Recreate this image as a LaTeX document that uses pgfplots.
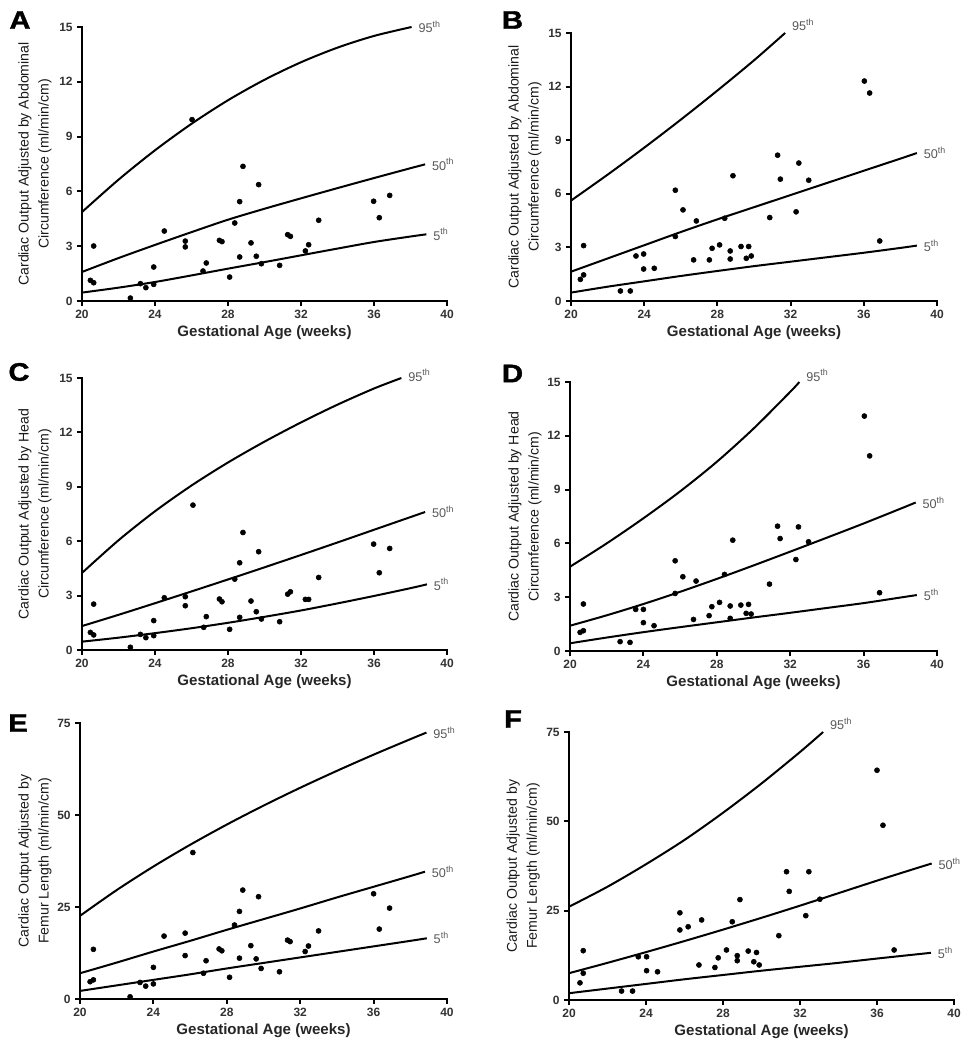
\documentclass[border=0pt]{standalone}
\usepackage{fontspec}
\setmainfont{Liberation Sans}
\newfontfamily\heavyfont[BoldFeatures={FakeBold=1.5}]{Liberation Sans}
\usepackage{pgfplots}
\usepackage{pgfplotstable}
\pgfplotsset{compat=1.18}

\pgfplotstableread{
x y
20.64 3.01
20.46 1.13
20.64 1.00
22.65 0.16
23.20 0.95
23.50 0.73
23.93 1.86
23.93 0.91
24.51 3.83
25.66 3.28
25.66 2.96
26.03 9.93
26.63 1.64
26.81 2.08
27.53 3.32
27.67 3.25
28.09 1.31
28.37 4.27
28.64 5.44
28.64 2.41
28.82 7.37
29.26 3.18
29.55 2.45
29.68 6.37
29.83 2.04
30.83 1.95
31.27 3.63
31.42 3.54
32.24 2.74
32.42 3.08
32.97 4.42
35.98 5.46
36.29 4.56
36.86 5.78
}\ptsA
\pgfplotstableread{
x y
20.69 3.10
20.51 1.21
20.69 1.46
22.70 0.56
23.24 0.56
23.55 2.52
23.97 2.63
23.97 1.79
24.55 1.83
25.70 6.20
25.70 3.61
26.12 5.10
26.70 2.30
26.85 4.48
27.56 2.30
27.71 2.95
28.12 3.14
28.40 4.63
28.70 2.80
28.70 2.35
28.85 7.01
29.29 3.05
29.58 2.39
29.71 3.05
29.85 2.52
30.86 4.67
31.29 8.16
31.44 6.82
32.30 4.99
32.45 7.72
32.99 6.76
36.03 12.31
36.32 11.64
36.87 3.36
}\ptsB
\pgfplotstableread{
x y
20.64 2.53
20.46 0.97
20.64 0.83
22.65 0.15
23.20 0.86
23.50 0.68
23.93 1.62
23.93 0.79
24.51 2.88
25.66 2.94
25.66 2.44
26.08 7.99
26.67 1.25
26.81 1.84
27.53 2.81
27.67 2.66
28.09 1.14
28.37 3.91
28.64 4.81
28.64 1.80
28.82 6.48
29.26 2.70
29.55 2.11
29.68 5.42
29.83 1.71
30.83 1.56
31.27 3.08
31.42 3.21
32.24 2.79
32.42 2.79
32.97 4.00
35.98 5.84
36.29 4.26
36.86 5.60
}\ptsC
\pgfplotstableread{
x y
20.73 2.62
20.55 1.04
20.73 1.13
22.73 0.52
23.27 0.48
23.58 2.32
24.00 2.32
24.00 1.58
24.58 1.41
25.73 5.03
25.73 3.21
26.15 4.14
26.73 1.76
26.87 3.90
27.58 1.97
27.73 2.47
28.15 2.71
28.42 4.27
28.73 2.51
28.73 1.82
28.87 6.18
29.31 2.56
29.60 2.10
29.73 2.60
29.87 2.06
30.87 3.73
31.31 6.96
31.45 6.27
32.31 5.10
32.45 6.92
33.00 6.09
36.04 13.10
36.33 10.88
36.87 3.25
}\ptsD
\pgfplotstableread{
x y
20.73 13.5
20.55 4.7
20.73 5.2
22.73 0.6
23.27 4.5
23.58 3.5
24.00 8.6
24.00 4.1
24.58 17.1
25.73 17.9
25.73 11.8
26.15 39.8
26.73 7.0
26.87 10.4
27.58 13.6
27.73 13.1
28.15 5.9
28.42 20.1
28.69 23.8
28.69 11.1
28.87 29.6
29.31 14.5
29.60 10.9
29.73 27.8
29.87 8.3
30.87 7.4
31.31 16.0
31.45 15.6
32.27 12.9
32.45 14.4
33.00 18.5
36.00 28.6
36.31 19.0
36.87 24.7
}\ptsE
\pgfplotstableread{
x y
20.74 13.8
20.57 4.8
20.74 7.5
22.73 2.5
23.30 2.5
23.60 12.1
24.03 12.1
24.03 8.2
24.60 7.9
25.76 24.4
25.76 19.6
26.19 20.5
26.75 9.8
26.89 22.4
27.58 9.1
27.75 11.8
28.18 14.0
28.48 21.9
28.74 12.4
28.74 11.0
28.88 28.1
29.31 13.7
29.60 10.7
29.74 13.3
29.88 9.8
30.90 18.0
31.30 35.9
31.44 30.4
32.30 23.6
32.46 35.9
33.03 28.2
36.00 64.3
36.31 48.9
36.89 14.0
}\ptsF

\pgfplotsset{
  panel/.style={
    scale only axis,
    axis lines=left,
    axis line style={-, line width=2.1pt, line cap=rect},
    xmin=20, xmax=40, ymin=0,
    xtick={20,24,...,40},
    tick align=outside,
    major tick length=3.5pt,
    tick style={line width=1.5pt, black},
    tick label style={font=\fontsize{9}{10}\selectfont\bfseries, text=black!80},
    /pgf/number format/assume math mode=true,
    xlabel={Gestational Age (weeks)},
    xlabel style={font=\fontsize{11.3}{12}\selectfont\bfseries, text=black!85, at={(axis description cs:0.5,0)}, anchor=center, yshift=-23.5pt},
    ylabel style={font=\fontsize{10.6}{15}\selectfont, text=black!90, align=center, anchor=center},
    clip=false,
  },
  curve/.style={black, line width=1.5pt, smooth, no markers},
  dots/.style={only marks, mark=*, mark size=1.9pt, black},
}
\tikzset{
  pct/.style={anchor=west, font=\fontsize{9.5}{10}\selectfont, text=black!65, inner sep=1pt, xshift=4pt},
  letter/.style={font=\fontsize{19}{19}\heavyfont\bfseries, xscale=1.15},
}

\begin{document}
\begin{tikzpicture}
\path[use as bounding box] (0,0) rectangle (732.75pt,787.5pt);

% Panel letters
\node[letter] at (15pt,772.5pt) {A};
\node[letter] at (384.4pt,772.5pt) {B};
\node[letter] at (14.25pt,508.5pt) {C};
\node[letter] at (384.4pt,507.4pt) {D};
\node[letter] at (13.5pt,245.25pt) {E};
\node[letter] at (384.75pt,248.25pt) {F};

% ---------- A ----------
\begin{axis}[panel, at={(61.5pt,561.75pt)}, anchor=south west,
  width=273.75pt, height=205.5pt, ymax=15, ytick={0,3,...,15},
  ylabel={Cardiac Output Adjusted by Abdominal\\Circumference (ml/min/cm)},
  ylabel style={at={(axis description cs:-0.129,0.5)}}]
\addplot[curve] coordinates {(20,4.87)(22,6.64)(24,8.25)(26,9.70)(28,10.99)(30,12.11)(32,13.07)(34,13.87)(36,14.51)(38.06,15)};
\addplot[curve] coordinates {(20,1.59)(22,2.35)(24,3.07)(26,3.77)(28,4.45)(30,5.05)(32,5.62)(34,6.18)(36,6.73)(38,7.27)(38.8,7.48)};
\addplot[curve] coordinates {(20,0.46)(22,0.73)(24,1.04)(26,1.4)(28,1.77)(30,2.13)(32,2.5)(34,2.87)(36,3.23)(38,3.53)(38.87,3.65)};
\addplot[dots] table[x=x,y=y] {\ptsA};
\node[pct] at (axis cs:38.06,15) {95\textsuperscript{th}};
\node[pct] at (axis cs:38.8,7.48) {50\textsuperscript{th}};
\node[pct] at (axis cs:38.87,3.65) {5\textsuperscript{th}};
\end{axis}

% ---------- B ----------
\begin{axis}[panel, at={(428.25pt,561.75pt)}, anchor=south west,
  width=274.5pt, height=201pt, ymax=15, ytick={0,3,...,15},
  ylabel={Cardiac Output Adjusted by Abdominal\\Circumference (ml/min/cm)},
  ylabel style={at={(axis description cs:-0.126,0.5)}}]
\addplot[curve] coordinates {(20,5.62)(22,7.07)(24,8.58)(26,10.15)(28,11.78)(30,13.47)(31.7,15)};
\addplot[curve] coordinates {(20,1.64)(22,2.38)(24,3.12)(26,3.86)(28,4.57)(30,5.25)(32,5.93)(34,6.61)(36,7.29)(38,7.97)(38.9,8.28)};
\addplot[curve] coordinates {(20,0.47)(22,0.8)(24,1.1)(26,1.4)(28,1.68)(30,1.95)(32,2.2)(34,2.45)(36,2.7)(38,2.97)(38.9,3.1)};
\addplot[dots] table[x=x,y=y] {\ptsB};
\node[pct, yshift=6pt] at (axis cs:31.7,15) {95\textsuperscript{th}};
\node[pct] at (axis cs:38.9,8.28) {50\textsuperscript{th}};
\node[pct] at (axis cs:38.9,3.1) {5\textsuperscript{th}};
\end{axis}

% ---------- C ----------
\begin{axis}[panel, at={(61.5pt,300pt)}, anchor=south west,
  width=273.75pt, height=204pt, ymax=15, ytick={0,3,...,15},
  ylabel={Cardiac Output Adjusted by Head\\Circumference (ml/min/cm)},
  ylabel style={at={(axis description cs:-0.129,0.5)}}]
\addplot[curve] coordinates {(20,4.25)(22,6.05)(24,7.65)(26,9.07)(28,10.34)(30,11.49)(32,12.55)(34,13.53)(36,14.42)(37.5,15)};
\addplot[curve] coordinates {(20,1.32)(22,1.94)(24,2.58)(26,3.23)(28,3.89)(30,4.56)(32,5.24)(34,5.93)(36,6.63)(38,7.33)(38.8,7.61)};
\addplot[curve] coordinates {(20,0.46)(22,0.68)(24,0.93)(26,1.2)(28,1.5)(30,1.83)(32,2.18)(34,2.57)(36,2.98)(38,3.41)(38.9,3.62)};
\addplot[dots] table[x=x,y=y] {\ptsC};
\node[pct, yshift=2pt] at (axis cs:37.5,15) {95\textsuperscript{th}};
\node[pct] at (axis cs:38.8,7.61) {50\textsuperscript{th}};
\node[pct] at (axis cs:38.9,3.62) {5\textsuperscript{th}};
\end{axis}

% ---------- D ----------
\begin{axis}[panel, at={(427.5pt,299.25pt)}, anchor=south west,
  width=275.25pt, height=201.75pt, ymax=15, ytick={0,3,...,15},
  ylabel={Cardiac Output Adjusted by Head\\Circumference (ml/min/cm)},
  ylabel style={at={(axis description cs:-0.123,0.5)}}]
\addplot[curve] coordinates {(20,4.7)(22,6.0)(24,7.4)(26,8.9)(28,10.55)(30,12.4)(32,14.45)(32.5,15)};
\addplot[curve] coordinates {(20,1.41)(22,1.99)(24,2.62)(26,3.3)(28,4.02)(30,4.77)(32,5.54)(34,6.32)(36,7.11)(38,7.93)(38.84,8.28)};
\addplot[curve] coordinates {(20,0.43)(22,0.75)(24,1.05)(26,1.33)(28,1.6)(30,1.87)(32,2.13)(34,2.4)(36,2.67)(38,2.98)(38.9,3.12)};
\addplot[dots] table[x=x,y=y] {\ptsD};
\node[pct, yshift=5pt] at (axis cs:32.5,15) {95\textsuperscript{th}};
\node[pct] at (axis cs:38.84,8.28) {50\textsuperscript{th}};
\node[pct] at (axis cs:38.9,3.12) {5\textsuperscript{th}};
\end{axis}

% ---------- E ----------
\begin{axis}[panel, at={(60pt,38.25pt)}, anchor=south west,
  width=275.25pt, height=207pt, ymax=75, ytick={0,25,50,75},
  ylabel={Cardiac Output Adjusted by\\Femur Length (ml/min/cm)},
  ylabel style={at={(axis description cs:-0.123,0.5)}}]
\addplot[curve] coordinates {(20,22.6)(22,29.6)(24,36.0)(26,41.9)(28,47.4)(30,52.55)(32,57.4)(34,62.0)(36,66.4)(38,70.6)(38.88,72.4)};
\addplot[curve] coordinates {(20,7.0)(22,9.9)(24,12.9)(26,15.8)(28,18.8)(30,21.7)(32,24.6)(34,27.6)(36,30.5)(38,33.4)(38.8,34.6)};
\addplot[curve] coordinates {(20,2.2)(22,3.7)(24,5.2)(26,6.7)(28,8.3)(30,9.8)(32,11.3)(34,12.8)(36,14.3)(38,15.8)(38.9,16.5)};
\addplot[dots] table[x=x,y=y] {\ptsE};
\node[pct] at (axis cs:38.88,72.4) {95\textsuperscript{th}};
\node[pct] at (axis cs:38.8,34.6) {50\textsuperscript{th}};
\node[pct] at (axis cs:38.9,16.5) {5\textsuperscript{th}};
\end{axis}

% ---------- F ----------
\begin{axis}[panel, at={(426.75pt,37.5pt)}, anchor=south west,
  width=288.75pt, height=201pt, ymax=75, ytick={0,25,50,75},
  ylabel={Cardiac Output Adjusted by\\Femur Length (ml/min/cm)},
  ylabel style={at={(axis description cs:-0.119,0.5)}}]
\addplot[curve] coordinates {(20,26.1)(22,31.7)(24,38.0)(26,44.8)(28,52.4)(30,60.6)(32,69.4)(33.2,75)};
\addplot[curve] coordinates {(20,7.5)(22,10.4)(24,13.4)(26,16.5)(28,19.7)(30,23.0)(32,26.4)(34,29.9)(36,33.4)(38,36.8)(38.84,38.2)};
\addplot[curve] coordinates {(20,1.9)(22,3.2)(24,4.5)(26,5.8)(28,7.0)(30,8.2)(32,9.3)(34,10.4)(36,11.6)(38,12.75)(38.8,13.2)};
\addplot[dots] table[x=x,y=y] {\ptsF};
\node[pct, yshift=6pt] at (axis cs:33.2,75) {95\textsuperscript{th}};
\node[pct] at (axis cs:38.84,38.2) {50\textsuperscript{th}};
\node[pct] at (axis cs:38.8,13.2) {5\textsuperscript{th}};
\end{axis}
\end{tikzpicture}
\end{document}
